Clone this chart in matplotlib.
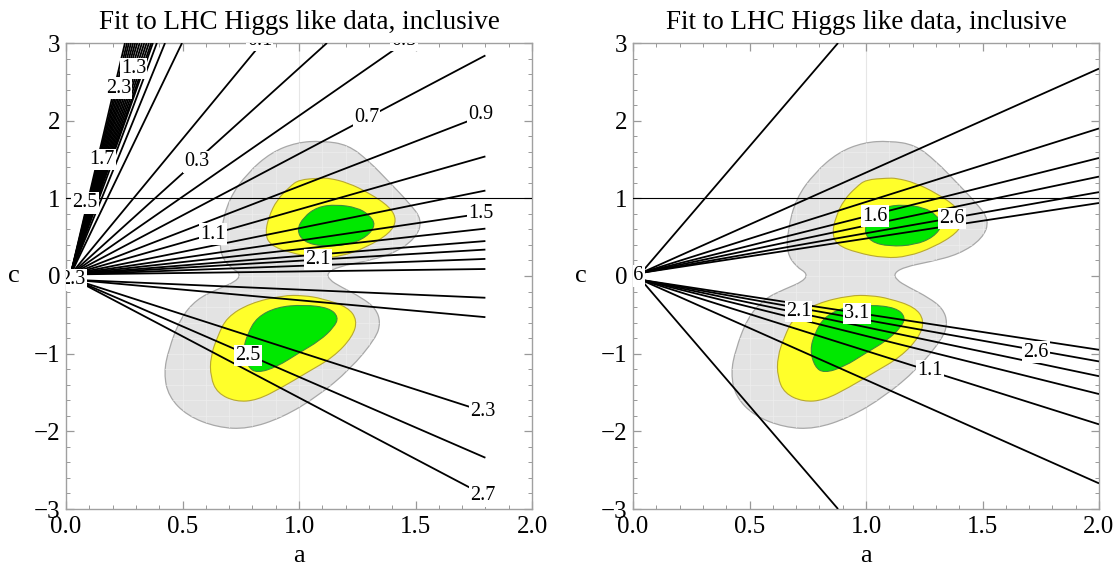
import numpy as np
import matplotlib
matplotlib.use('Agg')
import matplotlib.pyplot as plt
from matplotlib.path import Path
from matplotlib.patches import PathPatch
from matplotlib.ticker import MultipleLocator

plt.rcParams['font.family'] = ['Liberation Serif', 'DejaVu Serif']

TITLE = 'Fit to LHC Higgs like data, inclusive'

# --- fit regions (a, c) ---
gray_a = [0.88, 0.99, 1.10, 1.21, 1.30, 1.39, 1.47, 1.53, 1.50, 1.40, 1.27, 1.17, 1.12, 1.13,
          1.18, 1.27, 1.33, 1.35, 1.33, 1.22, 1.08, 0.93, 0.78, 0.65, 0.52, 0.44, 0.42, 0.44,
          0.49, 0.56, 0.65, 0.73, 0.75, 0.70, 0.66, 0.665, 0.70, 0.78]
gray_c = [1.59, 1.72, 1.74, 1.69, 1.48, 1.20, 0.95, 0.72, 0.48, 0.28, 0.18, 0.12, 0.04, -0.05,
          -0.14, -0.28, -0.42, -0.60, -0.80, -1.20, -1.55, -1.82, -1.97, -1.95, -1.80, -1.55, -1.25, -0.95,
          -0.55, -0.30, -0.17, -0.07, 0.03, 0.12, 0.30, 0.60, 1.00, 1.33]

yel_up_a = [1.00, 1.09, 1.13, 1.21, 1.30, 1.39, 1.42, 1.39, 1.29, 1.18, 1.08, 0.96, 0.875, 0.855, 0.87, 0.905, 0.96]
yel_up_c = [1.24, 1.26, 1.26, 1.20, 1.07, 0.89, 0.72, 0.55, 0.37, 0.25, 0.23, 0.30, 0.40, 0.55, 0.76, 0.98, 1.15]
grn_up_a = [1.08, 1.16, 1.25, 1.30, 1.33, 1.29, 1.21, 1.10, 1.02, 0.99, 1.02]
grn_up_c = [0.89, 0.92, 0.88, 0.79, 0.66, 0.50, 0.40, 0.38, 0.44, 0.59, 0.76]

yel_dn_a = [0.93, 1.02, 1.10, 1.21, 1.25, 1.23, 1.15, 1.03, 0.93, 0.82, 0.73, 0.65, 0.62, 0.62, 0.65, 0.69, 0.79]
yel_dn_c = [-0.25, -0.25, -0.29, -0.40, -0.57, -0.78, -1.04, -1.25, -1.43, -1.60, -1.62, -1.51, -1.30, -1.04, -0.78, -0.53, -0.35]
grn_dn_a = [0.905, 1.02, 1.13, 1.17, 1.15, 1.09, 1.00, 0.905, 0.82, 0.78, 0.76, 0.78, 0.82]
grn_dn_c = [-0.40, -0.37, -0.41, -0.53, -0.66, -0.83, -0.99, -1.17, -1.25, -1.17, -0.95, -0.74, -0.53]

# --- contour rays: end points (a, c) ---
left_end_a = [0.253, 0.262, 0.270, 0.279, 0.288, 0.297, 0.306, 0.316, 0.326, 0.336, 0.346, 0.356, 0.366, 0.373,
              0.39, 0.425, 0.498, 0.84, 1.12, 1.45,
              1.8, 1.8, 1.8, 1.8, 1.8, 1.8, 1.8, 1.8, 1.8, 1.8,
              1.8, 1.8, 1.8, 1.8, 1.8]
left_end_c = [3, 3, 3, 3, 3, 3, 3, 3, 3, 3, 3, 3, 3, 3,
              3, 3, 3, 3, 3, 3,
              2.84, 2.08, 1.54, 1.10, 0.81, 0.61, 0.45, 0.34, 0.22, 0.09,
              -0.28, -0.53, -1.75, -2.34, -2.83]
left_lab = ['0.1', '0.5', '1.3', '2.3', '1.7', '2.5', '0.3', '0.7', '0.9', '1.1', '1.5', '2.1', '2.3', '2.5', '2.3', '2.7']
left_lab_a = [0.83, 1.45, 0.29, 0.225, 0.155, 0.082, 0.56, 1.29, 1.78, 0.63, 1.78, 1.08, 0.03, 0.78, 1.79, 1.79]
left_lab_c = [3.03, 3.03, 2.67, 2.42, 1.50, 0.94, 1.47, 2.04, 2.08, 0.54, 0.81, 0.21, -0.05, -1.02, -1.75, -2.83]

right_end_a = [0.88, 2.0, 2.0, 2.0, 2.0, 2.0, 2.0,
               2.0, 2.0, 2.0, 2.0, 2.0, 2.0, 0.88]
right_end_c = [3, 2.67, 1.90, 1.52, 1.28, 1.08, 0.94,
               -0.95, -1.10, -1.29, -1.52, -1.91, -2.67, -3]
right_lab = ['2.6', '1.6', '2.6', '2.1', '3.1', '1.1', '2.6']
right_lab_a = [-0.01, 1.04, 1.37, 0.71, 0.96, 1.275, 1.73]
right_lab_c = [0.0, 0.77, 0.74, -0.46, -0.48, -1.22, -0.98]


def smooth_region(a, c, **kw):
    pts = np.column_stack([a, c])
    mids = (pts + np.roll(pts, -1, axis=0)) / 2
    verts = [mids[-1]]
    codes = [Path.MOVETO]
    for i in range(len(pts)):
        verts += [pts[i], mids[i]]
        codes += [Path.CURVE3, Path.CURVE3]
    return PathPatch(Path(verts, codes), **kw)


def panel(ax, end_a, end_c, start_up, start_dn, labs, lab_a, lab_c):
    gray = smooth_region(gray_a, gray_c, fc='#e3e3e3', ec='#a8a8a8', lw=0.9, zorder=1)
    ax.add_patch(gray)
    # faint plot mesh inside the outer region
    for x in np.arange(0.1, 2.0, 0.1):
        ln = ax.axvline(x, color='#eeeeee', lw=0.5, zorder=1.1)
        ln.set_clip_path(gray)
    for y in np.arange(-2.8, 3.0, 0.2):
        ln = ax.axhline(y, color='#eeeeee', lw=0.5, zorder=1.1)
        ln.set_clip_path(gray)
    for ra, rc in [(yel_up_a, yel_up_c), (yel_dn_a, yel_dn_c)]:
        ax.add_patch(smooth_region(ra, rc, fc='#ffff2a', ec='#b8a830', lw=0.8, zorder=2))
    for ra, rc in [(grn_up_a, grn_up_c), (grn_dn_a, grn_dn_c)]:
        ax.add_patch(smooth_region(ra, rc, fc='#00e800', ec='#3c8c3c', lw=0.8, zorder=3))

    ax.axvline(1.0, color='#e6e6e6', lw=0.8, zorder=0.5)
    ax.axhline(1.0, color='black', lw=0.8, zorder=4)

    for a1, c1 in zip(end_a, end_c):
        a0, c0 = start_up if c1 > 0 else start_dn
        ax.plot([a0, a1], [c0, c1], color='black', lw=1.3, zorder=5, solid_capstyle='butt')

    for t, x, y in zip(labs, lab_a, lab_c):
        ax.text(x, y, t, ha='center', va='center', fontsize=14.5, zorder=6, clip_on=True,
                bbox=dict(boxstyle='square,pad=0.06', fc='white', ec='none'))

    ax.set_xlim(0, 2)
    ax.set_ylim(-3, 3)
    ax.xaxis.set_major_locator(MultipleLocator(0.5))
    ax.xaxis.set_minor_locator(MultipleLocator(0.1))
    ax.yaxis.set_major_locator(MultipleLocator(1))
    ax.yaxis.set_minor_locator(MultipleLocator(0.2))
    ax.tick_params(which='both', direction='in', top=True, right=True, color='#999999', labelsize=18)
    ax.tick_params(which='major', length=6, width=0.9)
    ax.tick_params(which='minor', length=3, width=0.7)
    ax.tick_params(axis='x', pad=5)
    ax.tick_params(axis='y', pad=4)
    for s in ax.spines.values():
        s.set_color('#a0a0a0')
        s.set_linewidth(1.0)
    ax.set_title(TITLE, fontsize=19.5, pad=10)
    ax.set_xlabel('a', fontsize=19, va='center')
    ax.xaxis.set_label_coords(0.5, -0.1)
    ax.set_ylabel('c', fontsize=19, rotation=0, va='center', ha='center')
    ax.yaxis.set_label_coords(-0.112, 0.5)


fig = plt.figure(figsize=(11.17, 5.69), dpi=100)
ax1 = fig.add_axes([66 / 1117, 1 - 509 / 569, 466 / 1117, 466 / 569])
ax2 = fig.add_axes([633 / 1117, 1 - 509 / 569, 466 / 1117, 466 / 569])

panel(ax1, left_end_a, left_end_c, (0.02, 0.02), (0.04, -0.05), left_lab, left_lab_a, left_lab_c)
panel(ax2, right_end_a, right_end_c, (0.035, 0.04), (0.035, -0.05), right_lab, right_lab_a, right_lab_c)

fig.savefig('out.png', dpi=100)
